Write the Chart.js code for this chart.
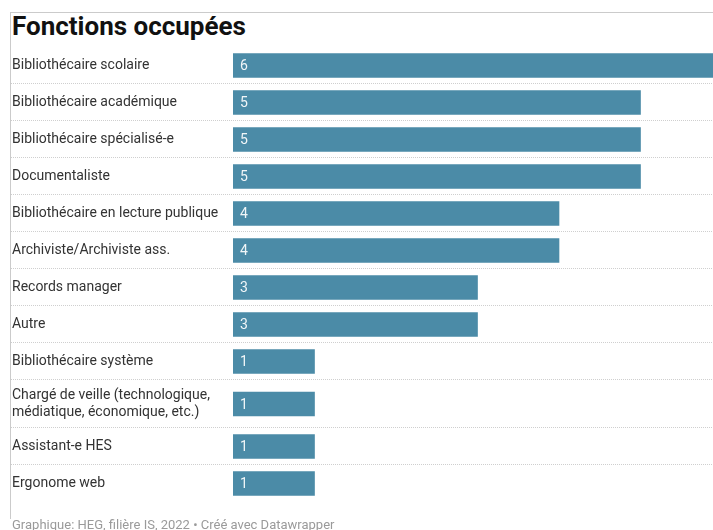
<!DOCTYPE html>
<html>
<head>
<meta charset="utf-8">
<script src="https://cdn.jsdelivr.net/npm/chart.js@4/dist/chart.umd.min.js"></script>
<style>
  html, body { margin: 0; padding: 0; width: 713px; height: 530px; overflow: hidden; background: #fff; }
  #frame { position: absolute; left: 10px; top: 12px; width: 760px; height: 506px;
           border-top: 1px solid #cbcbcb; border-left: 1px solid #cbcbcb; }
  h1 { position: absolute; left: 12px; top: 11px; margin: 0; font: 700 26px/31px Roboto, sans-serif;
       color: #111; white-space: nowrap; }
  #box { position: absolute; left: 0; top: 0; width: 722px; height: 530px; }
  #foot { position: absolute; left: 12px; top: 517px; font: 13px/15px Roboto, sans-serif;
          color: #9a9a9a; white-space: nowrap; }
</style>
</head>
<body>
<div id="frame"></div>
<h1>Fonctions occupées</h1>
<div id="box"><canvas id="chart"></canvas></div>
<div id="foot">Graphique: HEG, filière IS, 2022 • Créé avec Datawrapper</div>
<script>
// Occupied positions and number of respondents
const categories = [
  "Bibliothécaire scolaire",
  "Bibliothécaire académique",
  "Bibliothécaire spécialisé-e",
  "Documentaliste",
  "Bibliothécaire en lecture publique",
  "Archiviste/Archiviste ass.",
  "Records manager",
  "Autre",
  "Bibliothécaire système",
  "Chargé de veille (technologique,\nmédiatique, économique, etc.)",
  "Assistant-e HES",
  "Ergonome web"
];
const counts = [6, 5, 5, 5, 4, 4, 3, 3, 1, 1, 1, 1];

// Row layout: a row grows with the number of label lines
const ROW = 37, EXTRA_LINE = 11;
const lines = categories.map(c => c.split("\n"));
const rowHeights = lines.map(l => ROW + (l.length - 1) * EXTRA_LINE);
const rowStarts = [];
let acc = 0;
rowHeights.forEach(h => { rowStarts.push(acc); acc += h; });
const totalHeight = acc;
const centers = rowStarts.map((s, i) => s + rowHeights[i] / 2);

const FONT = "Roboto, sans-serif";

// Dotted separators between rows, running under the labels too
const separators = {
  id: "separators",
  beforeDatasetsDraw(chart) {
    const { ctx, scales: { y } } = chart;
    ctx.save();
    ctx.strokeStyle = "#cfcfcf";
    ctx.lineWidth = 1;
    ctx.setLineDash([1, 1]);
    for (let i = 1; i < rowStarts.length; i++) {
      const py = Math.round(y.getPixelForValue(rowStarts[i])) - 0.5;
      ctx.beginPath();
      ctx.moveTo(11, py);
      ctx.lineTo(chart.width, py);
      ctx.stroke();
    }
    ctx.restore();
  }
};

// Value printed at the start of each bar
const valueLabels = {
  id: "valueLabels",
  afterDatasetsDraw(chart) {
    const { ctx } = chart;
    const meta = chart.getDatasetMeta(0);
    ctx.save();
    ctx.font = "14px " + FONT;
    ctx.fillStyle = "rgba(255,255,255,0.92)";
    ctx.textAlign = "left";
    ctx.textBaseline = "middle";
    meta.data.forEach((bar, i) => {
      ctx.fillText(String(counts[i]), bar.base + 7, bar.y + 1);
    });
    ctx.restore();
  }
};

new Chart(document.getElementById("chart"), {
  type: "bar",
  data: {
    datasets: [{
      data: counts.map((v, i) => ({ x: v, y: centers[i] })),
      backgroundColor: "#4b8ba7",
      borderWidth: 0,
      barThickness: 24
    }]
  },
  options: {
    indexAxis: "y",
    responsive: true,
    maintainAspectRatio: false,
    animation: false,
    layout: { padding: { top: 47, bottom: 28, left: 12, right: 0 } },
    plugins: { legend: { display: false }, tooltip: { enabled: false } },
    scales: {
      x: { type: "linear", min: 0, max: 6, display: false },
      y: {
        type: "linear",
        reverse: true,
        offset: false,
        min: 0,
        max: totalHeight,
        grid: { display: false, offset: false },
        border: { display: false },
        afterBuildTicks(scale) { scale.ticks = centers.map(v => ({ value: v })); },
        afterFit(scale) { scale.width = 221; },
        ticks: {
          autoSkip: false,
          crossAlign: "far",
          color: "#333",
          font: { family: FONT, size: 14, lineHeight: 1.22 },
          callback: (value, index) => lines[index]
        }
      }
    }
  },
  plugins: [separators, valueLabels]
});
</script>
</body>
</html>
